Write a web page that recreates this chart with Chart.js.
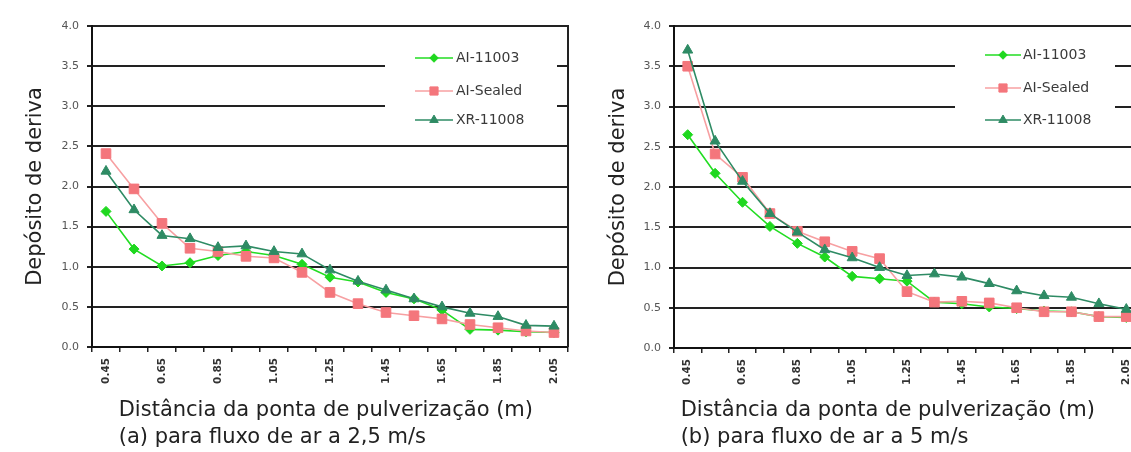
<!DOCTYPE html>
<html>
<head>
<meta charset="utf-8">
<script src="https://cdn.jsdelivr.net/npm/chart.js@4.4.1/dist/chart.umd.min.js"></script>
<style>
  html, body { margin: 0; padding: 0; background: #ffffff; width: 1131px; height: 452px; overflow: hidden; }
  #wrapA { position: absolute; left: 0; top: 0; width: 580px; height: 452px; }
  #wrapB { position: absolute; left: 580px; top: 0; width: 570px; height: 452px; }
</style>
</head>
<body>
<div id="wrapA"><canvas id="chartA"></canvas></div>
<div id="wrapB"><canvas id="chartB"></canvas></div>
<script>
// ---- data ----
const categories = ['0.45','0.55','0.65','0.75','0.85','0.95','1.05','1.15','1.25','1.35','1.45','1.55','1.65','1.75','1.85','1.95','2.05'];
const seriesNames = ['AI-11003', 'AI-Sealed', 'XR-11008'];
const yTickLabels = ['0.0','0.5','1.0','1.5','2.0','2.5','3.0','3.5','4.0'];
const xTitleLine = 'Distância da ponta de pulverização (m)';
const yTitle = 'Depósito de deriva';
const captionA = '(a) para fluxo de ar a 2,5 m/s';
const captionB = '(b) para fluxo de ar a 5 m/s';

// (a) airflow 2.5 m/s
const a_AI11003  = [1.69, 1.22, 1.01, 1.05, 1.14, 1.19, 1.14, 1.03, 0.87, 0.81, 0.68, 0.60, 0.46, 0.22, 0.21, 0.19, 0.18];
const a_AISealed = [2.41, 1.97, 1.54, 1.23, 1.19, 1.13, 1.11, 0.93, 0.68, 0.54, 0.43, 0.39, 0.35, 0.28, 0.24, 0.20, 0.18];
const a_XR11008  = [2.19, 1.71, 1.39, 1.35, 1.24, 1.26, 1.19, 1.16, 0.96, 0.82, 0.71, 0.60, 0.50, 0.42, 0.38, 0.27, 0.26];

// (b) airflow 5 m/s
const b_AI11003  = [2.65, 2.17, 1.81, 1.51, 1.30, 1.13, 0.89, 0.86, 0.83, 0.57, 0.55, 0.51, 0.49, 0.46, 0.45, 0.39, 0.38];
const b_AISealed = [3.50, 2.41, 2.12, 1.67, 1.45, 1.32, 1.20, 1.11, 0.70, 0.57, 0.58, 0.56, 0.50, 0.45, 0.45, 0.39, 0.39];
const b_XR11008  = [3.70, 2.57, 2.07, 1.67, 1.44, 1.22, 1.12, 1.00, 0.90, 0.92, 0.88, 0.80, 0.71, 0.65, 0.63, 0.55, 0.48];

// ---- styles ----
const FONT = 'DejaVu Sans';
const seriesStyles = [
  { line: '#22dd22', point: '#1fd81f', shape: 'rectRot', r: 5, order: 2 },
  { line: '#f7a0a2', point: '#f4767c', shape: 'rect', r: 6.8, order: 1 },
  { line: '#2e8b64', point: '#2e8b64', shape: 'triangle', r: 5.8, order: 0 }
];

const insideLegend = {
  id: 'insideLegend',
  beforeDatasetsDraw(chart, args, o) {
    const ctx = chart.ctx;
    ctx.save();
    ctx.fillStyle = '#ffffff';
    ctx.fillRect(o.box[0], o.box[1], o.box[2] - o.box[0], o.box[3] - o.box[1]);
    chart.data.datasets.forEach((ds, i) => {
      const y = o.rows[i];
      ctx.strokeStyle = ds.borderColor;
      ctx.lineWidth = ds.borderWidth;
      ctx.beginPath();
      ctx.moveTo(o.lineX[0], y);
      ctx.lineTo(o.lineX[1], y);
      ctx.stroke();
      ctx.fillStyle = ds.pointBackgroundColor;
      ctx.strokeStyle = ds.pointBorderColor;
      ctx.lineWidth = 1;
      Chart.helpers.drawPoint(ctx, { pointStyle: ds.pointStyle, radius: ds.pointRadius * 0.85, rotation: 0, borderWidth: 1 },
        (o.lineX[0] + o.lineX[1]) / 2, y);
      ctx.fillStyle = o.color;
      ctx.font = o.font;
      ctx.textBaseline = 'middle';
      ctx.textAlign = 'left';
      ctx.fillText(ds.label, o.textX, y);
    });
    ctx.restore();
  }
};

const plotRightBorder = {
  id: 'plotRightBorder',
  afterDraw(chart, args, o) {
    const { ctx, chartArea: a } = chart;
    ctx.save();
    ctx.strokeStyle = o.color;
    ctx.lineWidth = o.width;
    ctx.beginPath();
    ctx.moveTo(a.right, a.top - 1);
    ctx.lineTo(a.right, a.bottom);
    ctx.stroke();
    ctx.restore();
  }
};

function makeChart(id, values, caption, lay) {
  const datasets = values.map((vals, i) => {
    const s = seriesStyles[i];
    return {
      label: seriesNames[i],
      data: vals,
      borderColor: s.line,
      borderWidth: 1.6,
      pointStyle: s.shape,
      pointRadius: s.r,
      pointHoverRadius: s.r,
      pointBackgroundColor: s.point,
      pointBorderColor: s.point,
      pointBorderWidth: 1,
      tension: 0,
      order: s.order
    };
  });
  return new Chart(document.getElementById(id), {
    type: 'line',
    data: { labels: categories, datasets },
    plugins: [insideLegend, plotRightBorder],
    options: {
      responsive: true,
      maintainAspectRatio: false,
      animation: false,
      events: [],
      layout: { padding: { left: 0, right: lay.padRight, top: lay.padTop, bottom: 0 } },
      plugins: {
        legend: { display: false },
        tooltip: { enabled: false },
        insideLegend: lay.legend,
        plotRightBorder: { color: '#222222', width: 2 }
      },
      scales: {
        x: {
          type: 'category',
          offset: true,
          afterFit(scale) { scale.height = lay.xHeight; },
          grid: { offset: true, drawOnChartArea: false, drawTicks: true, tickLength: 5, color: '#222222', lineWidth: 1.5 },
          border: { display: true, color: '#111111', width: 2 },
          ticks: {
            autoSkip: false,
            minRotation: 90,
            maxRotation: 90,
            padding: 6,
            color: '#333333',
            font: { family: FONT, size: 10.5, weight: 'bold' },
            callback(value, index) { return index % 2 === 0 ? categories[index] : ''; }
          },
          title: {
            display: true,
            align: 'start',
            text: [lay.indent + xTitleLine, lay.indent + caption],
            color: '#222222',
            font: { family: FONT, size: 21, lineHeight: 1.33 },
            padding: { top: 0, bottom: 0 }
          }
        },
        y: {
          min: 0,
          max: 4,
          afterFit(scale) { scale.width = lay.yWidth; },
          afterBuildTicks(scale) { scale.ticks = yTickLabels.map(t => ({ value: parseFloat(t) })); },
          grid: { color: '#222222', lineWidth: 2, drawTicks: true, tickLength: 5 },
          border: { display: true, color: '#111111', width: 2 },
          ticks: {
            padding: 8,
            color: '#555555',
            font: { family: FONT, size: 11 },
            callback(value, index) { return yTickLabels[index]; }
          },
          title: {
            display: true,
            text: yTitle,
            color: '#222222',
            font: { family: FONT, size: 21 },
            padding: { top: lay.yTitlePad, bottom: 0 }
          }
        }
      }
    }
  });
}

makeChart('chartA', [a_AI11003, a_AISealed, a_XR11008], captionA, {
  padRight: 12, padTop: 26, xHeight: 105, yWidth: 92, yTitlePad: 23, indent: '    ',
  legend: { box: [385, 31, 557, 140], rows: [58, 91, 120], lineX: [415, 453], textX: 456,
            color: '#3a3a3a', font: '14px "DejaVu Sans"' }
});

makeChart('chartB', [b_AI11003, b_AISealed, b_XR11008], captionB, {
  padRight: 10, padTop: 26, xHeight: 104, yWidth: 94, yTitlePad: 26, indent: ' ',
  legend: { box: [375, 31, 535, 140], rows: [55, 88, 120], lineX: [405, 441], textX: 443,
            color: '#3a3a3a', font: '14px "DejaVu Sans"' }
});
</script>
</body>
</html>
